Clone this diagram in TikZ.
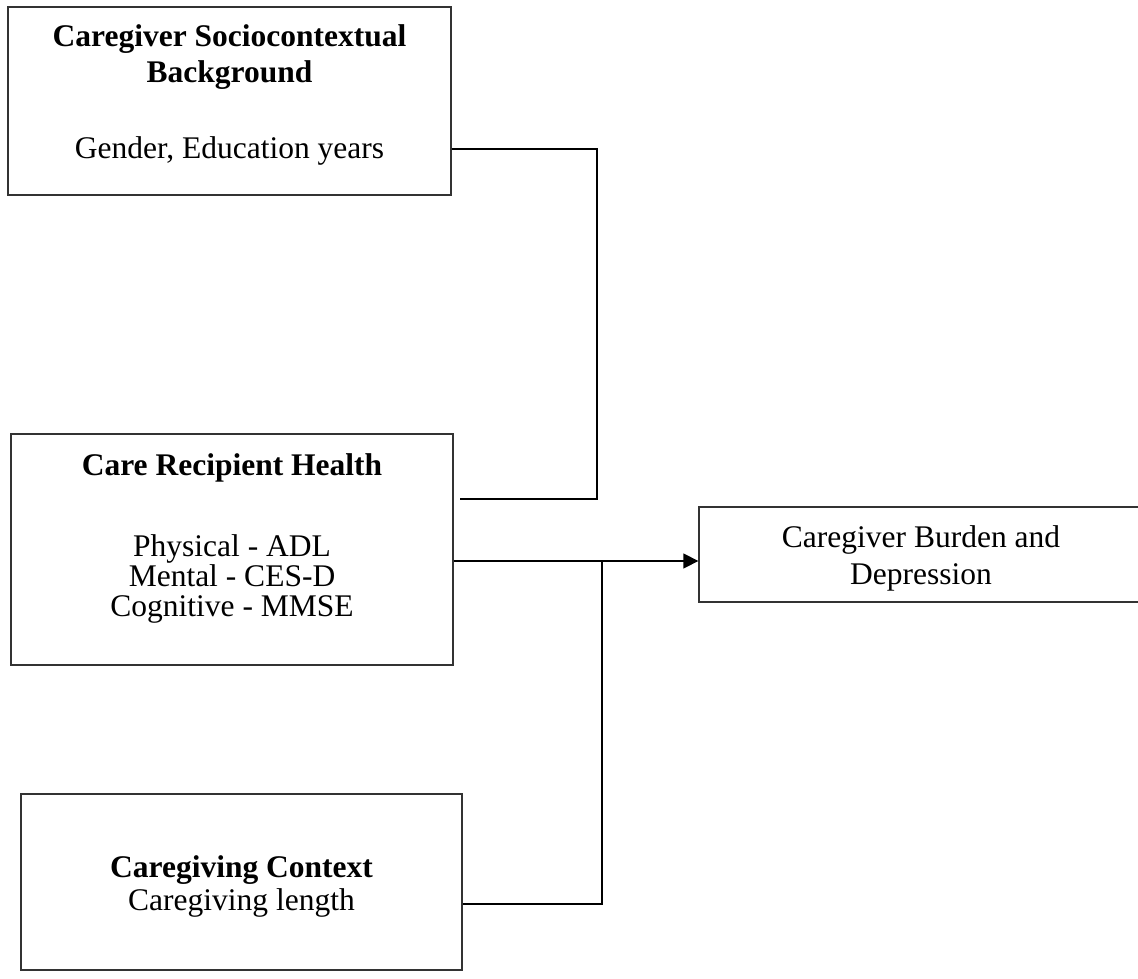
\documentclass[tikz,border=0pt]{standalone}
\usepackage{fontspec}
\setmainfont{Liberation Serif}
\usetikzlibrary{arrows.meta}
\begin{document}
\begin{tikzpicture}[x=1pt,y=-1pt,
  boxstyle/.style={draw=black!80, line width=1.3pt, inner sep=0pt, rectangle},
  txt/.style={anchor=base, inner sep=0pt, font=\fontsize{31.5}{36}\selectfont},
  btxt/.style={txt, font=\fontsize{31.5}{36}\selectfont\bfseries},
  conn/.style={draw=black, line width=1.3pt},
  arr/.style={conn, -{Triangle[length=15pt,width=15pt]}}]
\useasboundingbox (0,0) rectangle (1138,979);
% boxes
\node[boxstyle, minimum width=443pt, minimum height=188pt] (b1) at (229.5,101) {};
\node[boxstyle, minimum width=442pt, minimum height=231pt] (b2) at (232,549.5) {};
\node[boxstyle, minimum width=441pt, minimum height=176pt] (b3) at (241.5,882) {};
\node[boxstyle, minimum width=444pt, minimum height=95pt] (b4) at (921,554.5) {};
% texts
\node[btxt] (t11) at (229.5,47) {Caregiver Sociocontextual};
\node[btxt] (t12) at (229.5,83) {Background};
\node[txt] (t13) at (229.5,158) {Gender, Education years};
\node[btxt] (t21) at (232,475) {Care Recipient Health};
\node[txt] (t22) at (232,556) {Physical - ADL};
\node[txt] (t23) at (232,586) {Mental - CES-D};
\node[txt] (t24) at (232,616) {Cognitive - MMSE};
\node[btxt] (t31) at (241.5,877) {Caregiving Context};
\node[txt] (t32) at (241.5,910) {Caregiving length};
\node[txt] (t41) at (921,547) {Caregiver Burden and};
\node[txt] (t42) at (921,584) {Depression};
% connectors
\coordinate (c1) at (597,149);
\coordinate (e1) at (460,499);
\coordinate (j) at (602,561);
\coordinate (k) at (602,904);
\draw[conn] (b1.east |- c1) -- (c1) -- (c1 |- e1) -- (e1);
\draw[conn] (b2.east |- j) -- (j) -- (k) -- (b3.east |- k);
\draw[arr] (j) -- (b4.west |- j);
\end{tikzpicture}
\end{document}
